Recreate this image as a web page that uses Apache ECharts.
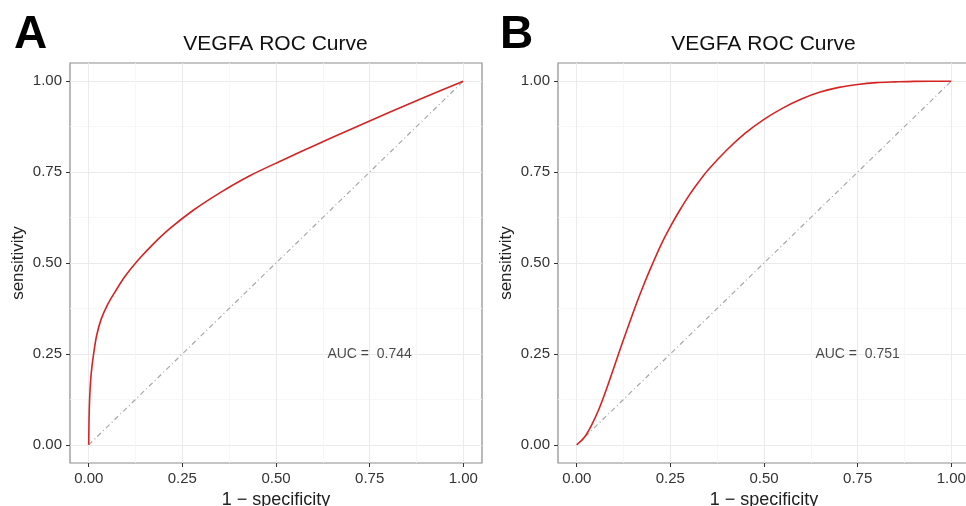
<!DOCTYPE html>
<html><head><meta charset="utf-8">
<script src="https://cdn.jsdelivr.net/npm/echarts@6/dist/echarts.min.js"></script>
<style>html,body{margin:0;padding:0;background:#fff}#c{width:966px;height:506px}</style>
</head><body><div id="c"></div>
<script>
// ---- data ----
const panelLetters = ['A', 'B'];
const titleText = 'VEGFA ROC Curve';
const xAxisTitle = '1 \u2212 specificity';
const yAxisTitle = 'sensitivity';
const majorTicks = [0, 0.25, 0.5, 0.75, 1];
const minorTicks = [0.125, 0.375, 0.625, 0.875];

const fprA = [0, 0.0005, 0.0015, 0.0035, 0.007, 0.013, 0.021, 0.033, 0.05, 0.07, 0.096, 0.132, 0.172, 0.217, 0.279, 0.35, 0.43, 0.52, 0.6, 0.7, 0.8, 0.9, 1];
const tprA = [0, 0.05, 0.1, 0.15, 0.2, 0.25, 0.3, 0.345, 0.385, 0.42, 0.462, 0.508, 0.552, 0.595, 0.645, 0.693, 0.74, 0.784, 0.822, 0.868, 0.913, 0.957, 1];

const fprB = [0, 0.02, 0.04, 0.06, 0.08, 0.1, 0.12, 0.14, 0.16, 0.18, 0.2, 0.225, 0.25, 0.275, 0.3, 0.325, 0.35, 0.4, 0.45, 0.5, 0.55, 0.6, 0.65, 0.7, 0.75, 0.8, 0.85, 0.9, 1];
const tprB = [0, 0.02, 0.055, 0.1, 0.155, 0.215, 0.275, 0.333, 0.39, 0.443, 0.492, 0.55, 0.6, 0.645, 0.686, 0.722, 0.755, 0.81, 0.857, 0.895, 0.926, 0.951, 0.97, 0.983, 0.991, 0.996, 0.998, 0.9995, 1];

const diagX = [0, 1];
const diagY = [0, 1];
const aucValues = ['0.744', '0.751'];
const aucX = [0.75, 0.75];
const aucY = [0.25, 0.25];

// ---- build ----
const zip = (a, b) => a.map((v, i) => [v, b[i]]);
const curves = [zip(fprA, tprA), zip(fprB, tprB)];
const FONT = '"Liberation Sans", Arial, Helvetica, sans-serif';
const grids = [
  { left: 70, top: 63, width: 412, height: 400 },
  { left: 558, top: 63, width: 412, height: 400 }
];

const xAxes = [], yAxes = [], series = [], graphics = [];
grids.forEach((g, i) => {
  const majorCommon = {
    gridIndex: i, type: 'value', min: -0.05, max: 1.05,
    axisLine: { show: false, onZero: false },
    axisTick: { show: true, customValues: majorTicks, length: 4, lineStyle: { color: '#333', width: 1 } },
    axisLabel: { show: true, customValues: majorTicks, formatter: v => v.toFixed(2), color: '#333', fontSize: 15, fontFamily: FONT, margin: 8 },
    splitLine: { show: true, lineStyle: { color: '#ebebeb', width: 1.1 } },
    nameTextStyle: { color: '#222', fontSize: 18, fontFamily: FONT }
  };
  const minorCommon = {
    gridIndex: i, type: 'value', min: -0.05, max: 1.05,
    axisLine: { show: false, onZero: false },
    axisTick: { show: false, customValues: minorTicks },
    axisLabel: { show: false, customValues: minorTicks },
    splitLine: { show: true, lineStyle: { color: '#f5f5f5', width: 0.8 } }
  };
  xAxes.push(Object.assign({}, majorCommon, { position: 'bottom', name: xAxisTitle, nameLocation: 'middle', nameGap: 27 }));
  xAxes.push(Object.assign({}, minorCommon, { position: 'bottom' }));
  yAxes.push(Object.assign({}, majorCommon, { position: 'left', name: yAxisTitle, nameLocation: 'middle', nameGap: 43,
    nameTextStyle: { color: '#222', fontSize: 17, fontFamily: FONT } }));
  yAxes.push(Object.assign({}, minorCommon, { position: 'left' }));

  g.show = true; g.borderColor = '#8c8c8c'; g.borderWidth = 1.2; g.backgroundColor = '#fff';
  g.containLabel = false; g.outerBoundsMode = 'none';

  series.push({
    type: 'line', xAxisIndex: 2 * i, yAxisIndex: 2 * i, data: zip(diagX, diagY),
    showSymbol: false, lineStyle: { color: '#a8a8a8', width: 1.2, type: [5, 3, 1, 3] }, z: 2
  });
  series.push({
    type: 'line', xAxisIndex: 2 * i, yAxisIndex: 2 * i, data: curves[i],
    showSymbol: false, smooth: 0.3, lineStyle: { color: '#d42424', width: 1.6 }, z: 3
  });
  series.push({
    type: 'scatter', xAxisIndex: 2 * i, yAxisIndex: 2 * i, data: [[aucX[i], aucY[i]]],
    symbolSize: 0, z: 4,
    label: { show: true, position: 'inside', formatter: 'AUC =  ' + aucValues[i], color: '#1a1a1a', fontSize: 14, fontFamily: FONT }
  });

  graphics.push({ type: 'text', x: g.left + g.width / 2 - 0.5, y: 44,
    style: { text: titleText, font: '21px ' + FONT, fill: '#111', textAlign: 'center', textVerticalAlign: 'middle' } });
  graphics.push({ type: 'text', x: i === 0 ? 14 : 500, y: 35,
    style: { text: panelLetters[i], font: 'bold 46px ' + FONT, fill: '#000', textAlign: 'left', textVerticalAlign: 'middle' } });
});

const chart = echarts.init(document.getElementById('c'), null, { renderer: 'canvas' });
chart.setOption({
  animation: false,
  backgroundColor: '#fff',
  grid: grids,
  xAxis: xAxes,
  yAxis: yAxes,
  series: series,
  graphic: graphics
});
</script>
</body></html>
